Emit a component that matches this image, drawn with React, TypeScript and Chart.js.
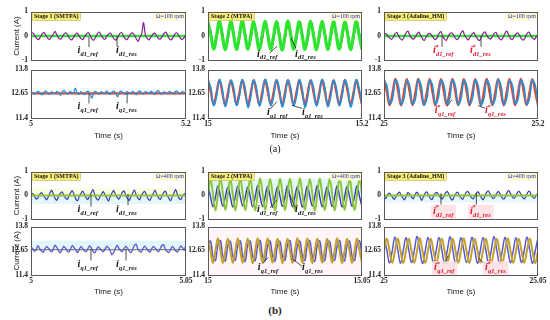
import React, { useEffect, useRef } from "react";
import { Chart, registerables } from "chart.js";
Chart.register(...registerables);

// ---------------- data ----------------
const TIME_A = [[5, 5.2], [15, 15.2], [25, 25.2]];
const TIME_B = [[5, 5.05], [15, 15.05], [25, 25.05]];
const D_TICKS = [-1, 0, 1];
const Q_TICKS = [11.4, 12.65, 13.8];
const STAGES = ["Stage 1 (SMTPA)", "Stage 2 (MTPA)", "Stage 3 (Adaline_HM)"];
const SPEEDS = ["Ω=100 rpm", "Ω=400 rpm"];

// (a) stage 1
const A1_D_REF = [0, 0];
const A1_D_RES = [
  0.10, 0.13, 0.02, -0.10, -0.15, -0.05,
  0.08, 0.15, 0.04, -0.09, -0.14, -0.04,
  0.06, 0.19, 0.05, -0.08, -0.13, -0.03,
  0.09, 0.13, 0.03, -0.11, -0.16, -0.06,
  0.07, 0.12, 0.02, -0.10, -0.15, -0.04,
  0.08, 0.14, 0.04, -0.12, -0.17, -0.05,
  0.10, 0.16, 0.03, -0.09, -0.14, -0.02,
  0.07, 0.12, 0.01, -0.12, -0.17, -0.06,
  0.09, 0.14, 0.02, -0.11, -0.15, -0.03,
  0.08, 0.13, 0.05, -0.10, -0.22, -0.05,
  0.09, 0.55, 0.03, -0.10, -0.16, -0.04,
  0.07, 0.12, 0.02, -0.09, -0.13, -0.03,
  0.10, 0.16, 0.04, -0.12, -0.15, -0.05,
  0.08, 0.13, 0.02, -0.10, -0.14, -0.06,
  0.05,
];
const A1_Q_REF = [12.62, 12.62];
const A1_Q_RES = [
  12.70, 12.64, 12.58, 12.66, 12.72, 12.62,
  12.55, 12.68, 12.74, 12.63, 12.58, 12.69,
  12.66, 12.60, 12.72, 12.65, 12.52, 12.70,
  12.75, 12.62, 12.59, 12.71, 12.66, 12.61,
  12.88, 12.64, 12.57, 12.70, 12.62, 12.55,
  12.69, 12.73, 12.60, 12.38, 12.66, 12.71,
  12.63, 12.58, 12.70, 12.66, 12.61, 12.74,
  12.62, 12.57, 12.69, 12.72, 12.60, 12.45,
  12.68, 12.73, 12.62, 12.58, 12.70, 12.65,
  12.60, 12.72, 12.66, 12.55, 12.69, 12.74,
  12.63, 12.59, 12.71, 12.66, 12.61, 12.73,
  12.64, 12.56, 12.70, 12.75, 12.62, 12.58,
  12.69, 12.66, 12.60, 12.72, 12.65, 12.57,
  12.70, 12.74, 12.63, 12.59, 12.71, 12.66,
  12.68,
];

// (a) stage 2
const A2_D_REF = [
  0.58, 0.03, -0.54, 0.02, 0.60, 0.02, -0.56, 0.01,
  0.59, 0.03, -0.55, 0.02, 0.61, 0.02, -0.54, 0.03,
  0.58, 0.01, -0.56, 0.02, 0.60, 0.03, -0.55, 0.01,
  0.59, 0.02, -0.57, 0.02, 0.61, 0.03, -0.54, 0.02,
  0.58, 0.02, -0.55, 0.03, 0.60, 0.01, -0.56, 0.02,
  0.59, 0.03, -0.55, 0.01, 0.60, 0.02, -0.54, 0.02,
  0.58, 0.03, -0.56, 0.02, 0.60, 0.02, -0.55,
];
const A2_D_RES = [
  0.48, 0.18, -0.50, -0.16, 0.50, 0.19, -0.48, -0.18,
  0.49, 0.17, -0.51, -0.17, 0.51, 0.19, -0.49, -0.16,
  0.48, 0.18, -0.50, -0.18, 0.50, 0.16, -0.48, -0.17,
  0.49, 0.19, -0.52, -0.16, 0.51, 0.18, -0.49, -0.18,
  0.48, 0.17, -0.50, -0.17, 0.50, 0.19, -0.51, -0.16,
  0.49, 0.18, -0.48, -0.18, 0.51, 0.17, -0.50, -0.17,
  0.48, 0.19, -0.49, -0.16, 0.50, 0.18, -0.51,
];
const A2_Q_REF = [
  13.27, 12.67, 12.07, 12.67, 13.28, 12.66, 12.06, 12.68,
  13.26, 12.67, 12.08, 12.66, 13.28, 12.68, 12.07, 12.67,
  13.27, 12.66, 12.06, 12.67, 13.26, 12.67, 12.08, 12.68,
  13.28, 12.67, 12.07, 12.66, 13.27, 12.68, 12.06, 12.67,
  13.26, 12.67, 12.07, 12.68, 13.28, 12.66, 12.08, 12.67,
  13.27, 12.67, 12.06, 12.66, 13.26, 12.68, 12.07, 12.67,
  13.28, 12.67, 12.08, 12.66, 13.27, 12.67, 12.06,
];
const A2_Q_RES = [
  13.28, 12.89, 12.02, 12.45, 13.30, 12.87, 11.98, 12.44,
  13.26, 12.90, 12.03, 12.46, 13.29, 12.88, 11.93, 12.45,
  13.27, 12.89, 12.01, 12.44, 13.31, 12.90, 12.02, 12.46,
  13.28, 12.87, 11.96, 12.45, 13.27, 12.89, 12.03, 12.44,
  13.29, 12.88, 11.94, 12.46, 13.26, 12.90, 12.01, 12.45,
  13.30, 12.89, 11.97, 12.44, 13.27, 12.88, 12.02, 12.46,
  13.28, 12.90, 11.95, 12.45, 13.29, 12.88, 12.01,
];

// (a) stage 3
const A3_D_REF = [0, 0];
const A3_D_RES = [
  0.05, 0.10, 0.02, -0.08, -0.14, -0.06,
  0.09, 0.14, 0.00, -0.12, -0.16, -0.03,
  0.12, 0.20, 0.04, -0.09, -0.13, -0.05,
  0.08, 0.16, 0.02, -0.11, -0.18, -0.04,
  0.07, 0.11, 0.03, -0.08, -0.15, -0.06,
  0.10, 0.18, 0.01, -0.13, -0.17, -0.02,
  0.09, 0.13, 0.04, -0.10, -0.14, -0.05,
  0.12, 0.21, 0.02, -0.09, -0.16, -0.03,
  0.08, 0.14, 0.00, -0.12, -0.19, -0.06,
  0.10, 0.17, 0.03, -0.08, -0.13, -0.04,
  0.09, 0.15, 0.01, -0.11, -0.16, -0.05,
  0.11, 0.20, 0.04, -0.10, -0.15, -0.02,
  0.08, 0.13, 0.02, -0.12, -0.17, -0.06,
  0.10, 0.16, 0.03, -0.09, -0.14, -0.04,
  0.06,
];
const A3_Q_REF = [
  13.33, 12.68, 12.03, 12.68, 13.34, 12.67, 12.02, 12.69,
  13.32, 12.68, 12.04, 12.67, 13.34, 12.69, 12.03, 12.68,
  13.33, 12.67, 12.02, 12.68, 13.32, 12.68, 12.04, 12.69,
  13.34, 12.68, 12.03, 12.67, 13.33, 12.69, 12.02, 12.68,
  13.32, 12.68, 12.03, 12.69, 13.34, 12.67, 12.04, 12.68,
  13.33, 12.68, 12.02, 12.67, 13.32, 12.69, 12.03, 12.68,
  13.34, 12.68, 12.04, 12.67, 13.33, 12.68, 12.02,
];
const A3_Q_RES = [
  13.25, 13.01, 12.11, 12.35, 13.27, 13.03, 12.08, 12.36,
  13.24, 13.00, 12.10, 12.34, 13.30, 13.02, 12.05, 12.35,
  13.26, 13.01, 12.09, 12.37, 13.25, 13.04, 12.11, 12.34,
  13.28, 13.00, 12.07, 12.35, 13.24, 13.02, 12.10, 12.36,
  13.27, 13.01, 12.06, 12.34, 13.25, 13.03, 12.09, 12.35,
  13.29, 13.00, 12.08, 12.36, 13.24, 13.02, 12.11, 12.34,
  13.26, 13.01, 12.07, 12.35, 13.27, 13.03, 12.09,
];

// (b) stage 1
const B1_D_REF = [0, 0];
const B1_D_RES = [
  0.05, 0.08, -0.02, -0.15, -0.10, 0.04,
  0.12, 0.03, -0.08, -0.18, -0.06, 0.10,
  0.22, 0.05, -0.12, -0.20, -0.04, 0.09,
  0.15, 0.02, -0.10, -0.16, -0.03, 0.12,
  0.20, 0.04, -0.14, -0.22, -0.05, 0.08,
  0.18, 0.06, -0.09, -0.17, -0.02, 0.11,
  0.24, 0.03, -0.13, -0.19, -0.06, 0.07,
  0.16, 0.01, -0.11, -0.23, -0.04, 0.10,
  0.21, 0.05, -0.08, -0.15, -0.03, 0.13,
  0.19, 0.02, -0.12, -0.21, -0.05, 0.09,
  0.23, 0.04, -0.10, -0.18, -0.02, 0.11,
  0.17, 0.03, -0.14, -0.20, -0.06, 0.08,
  0.22, 0.05, -0.09, -0.16, -0.03, 0.12,
  0.18, 0.02, -0.11, -0.22, -0.05, 0.10,
  0.25, 0.04, -0.12, -0.17, -0.02, 0.06,
  0.08,
];
const B1_Q_REF = [12.65, 12.65];
const B1_Q_RES = [
  12.78, 12.70, 12.58, 12.66, 12.85, 12.72,
  12.60, 12.52, 12.68, 12.80, 12.74, 12.62,
  12.55, 12.70, 12.88, 12.76, 12.61, 12.50,
  12.66, 12.82, 12.73, 12.59, 12.54, 12.69,
  12.86, 12.75, 12.63, 12.51, 12.67, 12.81,
  12.72, 12.60, 12.56, 12.70, 12.84, 12.74,
  12.58, 12.49, 12.66, 12.79, 12.71, 12.62,
  12.55, 12.68, 12.83, 12.75, 12.60, 12.40,
  12.52, 12.72, 12.87, 12.73, 12.61, 12.56,
  12.70, 12.82, 12.74, 12.59, 12.50, 12.67,
  12.85, 12.93, 12.70, 12.58, 12.54, 12.71,
  12.83, 12.72, 12.61, 12.53, 12.69, 12.80,
  12.74, 12.62, 12.55, 12.70, 12.86, 12.90,
  12.68, 12.57, 12.51, 12.66, 12.81, 12.73,
  12.60, 12.54, 12.69, 12.84, 12.75, 12.62,
  12.92,
];

// (b) stage 2
const B2_D_REF = [
  0.05, 0.70, 0.05, -0.62, 0.04, 0.72, 0.06, -0.60,
  0.05, 0.69, 0.04, -0.63, 0.06, 0.71, 0.05, -0.61,
  0.04, 0.70, 0.06, -0.62, 0.05, 0.72, 0.04, -0.60,
  0.06, 0.69, 0.05, -0.63, 0.04, 0.71, 0.06, -0.61,
  0.05, 0.70, 0.04, -0.62, 0.06, 0.72, 0.05, -0.60,
  0.04, 0.69, 0.06, -0.63, 0.05, 0.71, 0.04, -0.61,
  0.06, 0.70, 0.05, -0.62, 0.04, 0.72, 0.06, -0.60,
  0.05, 0.70, 0.04, -0.61, 0.05, 0.71, 0.05,
];
const B2_D_RES = [
  0.37, -0.05, -0.47, -0.06, 0.40, -0.04, -0.45, -0.05,
  0.35, -0.06, -0.48, -0.04, 0.39, -0.05, -0.44, -0.06,
  0.36, -0.04, -0.47, -0.05, 0.41, -0.06, -0.46, -0.04,
  0.38, -0.05, -0.49, -0.06, 0.36, -0.04, -0.45, -0.05,
  0.40, -0.06, -0.47, -0.04, 0.37, -0.05, -0.48, -0.06,
  0.39, -0.04, -0.44, -0.05, 0.42, -0.06, -0.47, -0.04,
  0.36, -0.05, -0.46, -0.06, 0.40, -0.04, -0.48, -0.05,
  0.38, -0.06, -0.45, -0.04, 0.41, -0.05, -0.47,
];
const B2_Q_REF = [
  13.20, 12.60, 12.00, 12.60, 13.22, 12.61, 11.99, 12.59,
  13.19, 12.60, 12.01, 12.61, 13.21, 12.59, 12.00, 12.60,
  13.20, 12.61, 11.98, 12.60, 13.22, 12.60, 12.00, 12.59,
  13.21, 12.60, 12.01, 12.61, 13.19, 12.59, 11.99, 12.60,
  13.20, 12.61, 12.00, 12.60, 13.22, 12.60, 12.01, 12.59,
  13.21, 12.60, 11.99, 12.61, 13.20, 12.59, 12.00, 12.60,
  13.19, 12.61, 12.01, 12.60, 13.22, 12.60, 11.98, 12.59,
  13.20, 12.60, 12.00, 12.61, 13.21, 12.60, 12.01,
];
const B2_Q_RES = [
  12.87, 13.08, 12.33, 12.12, 12.89, 13.10, 12.31, 12.10,
  12.86, 13.06, 12.34, 12.13, 12.88, 13.09, 12.32, 12.08,
  12.90, 13.07, 12.33, 12.11, 12.87, 13.11, 12.30, 12.12,
  12.85, 13.08, 12.35, 12.09, 12.89, 13.06, 12.32, 12.13,
  12.88, 13.10, 12.31, 12.10, 12.86, 13.07, 12.34, 12.12,
  12.90, 13.09, 12.33, 12.08, 12.87, 13.08, 12.30, 12.11,
  12.89, 13.06, 12.32, 12.13, 12.85, 13.10, 12.34, 12.10,
  12.88, 13.07, 12.33, 12.12, 12.87, 13.09, 12.31,
];

// (b) stage 3
const B3_D_REF = [0, 0];
const B3_D_RES = [
  -0.05, -0.12, 0.02, 0.10, 0.04, -0.08,
  -0.16, -0.04, 0.08, 0.14, 0.02, -0.10,
  -0.18, -0.03, 0.12, 0.06, -0.06, -0.14,
  0.00, 0.13, 0.08, -0.05, -0.20, -0.06,
  0.09, 0.15, 0.03, -0.11, -0.17, -0.02,
  0.10, 0.12, 0.01, -0.09, -0.15, -0.03,
  0.11, 0.16, 0.04, -0.12, -0.19, -0.05,
  0.08, 0.14, 0.02, -0.10, -0.16, -0.01,
  0.12, 0.17, 0.05, -0.08, -0.14, -0.04,
  0.10, 0.15, 0.03, -0.11, -0.18, -0.02,
  0.13, 0.19, 0.06, -0.07, -0.13, -0.03,
  0.11, 0.16, 0.04, -0.09, -0.15, -0.05,
  0.14, 0.20, 0.07, -0.06, -0.12, -0.02,
  0.12, 0.17, 0.05, -0.08, -0.14, -0.03,
  0.13, 0.18, 0.04, -0.07, -0.11, 0.02,
  0.08,
];
const B3_Q_REF = [
  12.60, 13.20, 12.60, 12.00, 12.61, 13.21, 12.59, 11.99,
  12.60, 13.19, 12.61, 12.01, 12.59, 13.22, 12.60, 12.00,
  12.61, 13.20, 12.59, 11.98, 12.60, 13.21, 12.61, 12.01,
  12.59, 13.19, 12.60, 12.00, 12.61, 13.22, 12.59, 11.99,
  12.60, 13.20, 12.61, 12.01, 12.59, 13.21, 12.60, 12.00,
  12.61, 13.19, 12.59, 11.99, 12.60, 13.22, 12.61, 12.00,
  12.59, 13.20, 12.60, 12.01, 12.61, 13.21, 12.59, 11.99,
  12.60,
];
const B3_Q_RES = [
  13.25, 12.65, 12.00, 12.60, 13.28, 12.64, 11.98, 12.61,
  13.24, 12.66, 12.02, 12.59, 13.30, 12.65, 11.97, 12.60,
  13.26, 12.64, 12.01, 12.62, 13.25, 12.66, 11.99, 12.60,
  13.29, 12.65, 12.00, 12.59, 13.24, 12.64, 12.02, 12.61,
  13.27, 12.66, 11.98, 12.60, 13.25, 12.65, 12.01, 12.62,
  13.30, 12.64, 11.99, 12.59, 13.26, 12.66, 12.00, 12.61,
  13.24, 12.65, 12.02, 12.60, 13.28, 12.64, 11.97, 12.60,
  13.26,
];

// ---------------- layout / style ----------------
type Series = { v: number[]; c: string; w: number; t: number };
type Ann = { sub: string; star: boolean; fx: number; fy: number; l: number[] };
type Band = { lo: number; hi: number; c: string };
type Panel = {
  left: number; top: number; w: number; h: number; axw: number;
  y: [number, number]; yt: number[]; x: number[]; showX: boolean; xh: number;
  yTitle: boolean; series: Series[]; stage?: string; speed?: string;
  anns: Ann[]; annColor: string; annBg?: string; bands: Band[];
};

const COLS = [
  { left: 31, w: 155, axw: 31 },
  { left: 208, w: 154, axw: 30 },
  { left: 384, w: 154, axw: 30 },
];
const ROWS = [
  { uTop: 10, uH: 52, lTop: 68, lH: 50, xh: 24 },
  { uTop: 170, uH: 51, lTop: 225, lH: 50, xh: 23 },
];

const GREEN_A = "#2fe42f", PURPLE = "#8b1c99", RED = "#e8452c", BLUE_A = "#2390dc";
const GREEN_B = "#8cc63a", BLUE_B = "#3a3ab4", OLIVE = "#c2a12e", BLUE_BQ = "#5858d6", DARK_REF = "#6b6b3c";

const S = (v: number[], c: string, w: number, t: number): Series => ({ v, c, w, t });

const dAnn = (star: boolean, a: number[], b: number[]): Ann[] => [
  { sub: "d1_ref", star, fx: a[0], fy: a[1], l: a.slice(2) },
  { sub: "d1_res", star, fx: b[0], fy: b[1], l: b.slice(2) },
];
const qAnn = (star: boolean, a: number[], b: number[]): Ann[] => [
  { sub: "q1_ref", star, fx: a[0], fy: a[1], l: a.slice(2) },
  { sub: "q1_res", star, fx: b[0], fy: b[1], l: b.slice(2) },
];

function makePanels(): Panel[] {
  const out: Panel[] = [];
  const seriesD = [
    [S(A1_D_RES, PURPLE, 1.2, 0.3), S(A1_D_REF, GREEN_A, 2.6, 0)],
    [S(A2_D_REF, GREEN_A, 3.2, 0.4), S(A2_D_RES, PURPLE, 1.4, 0.4)],
    [S(A3_D_RES, PURPLE, 1.2, 0.3), S(A3_D_REF, GREEN_A, 2.6, 0)],
    [S(B1_D_REF, GREEN_B, 1.8, 0), S(B1_D_RES, BLUE_B, 1.2, 0.3)],
    [S(B2_D_REF, GREEN_B, 2.0, 0.4), S(B2_D_RES, BLUE_B, 1.4, 0.4)],
    [S(B3_D_REF, GREEN_B, 1.8, 0), S(B3_D_RES, BLUE_B, 1.2, 0.3)],
  ];
  const seriesQ = [
    [S(A1_Q_RES, BLUE_A, 1.3, 0.3), S(A1_Q_REF, RED, 2.2, 0)],
    [S(A2_Q_RES, BLUE_A, 1.6, 0.4), S(A2_Q_REF, RED, 2.2, 0.4)],
    [S(A3_Q_RES, BLUE_A, 1.6, 0.4), S(A3_Q_REF, RED, 2.2, 0.4)],
    [S(B1_Q_RES, BLUE_BQ, 1.3, 0.3), S(B1_Q_REF, DARK_REF, 1.0, 0)],
    [S(B2_Q_REF, OLIVE, 2.0, 0.4), S(B2_Q_RES, BLUE_BQ, 1.5, 0.4)],
    [S(B3_Q_REF, OLIVE, 2.0, 0.4), S(B3_Q_RES, BLUE_BQ, 1.5, 0.4)],
  ];
  const annD = [
    dAnn(false, [0.30, 0.85, 0.374, 0.52, 0.374, 0.73], [0.548, 0.85, 0.555, 0.50, 0.555, 0.71]),
    dAnn(false, [0.318, 0.92, 0.448, 0.71, 0.40, 0.85], [0.565, 0.92, 0.539, 0.54, 0.571, 0.75]),
    dAnn(true, [0.318, 0.85, 0.377, 0.50, 0.377, 0.72], [0.558, 0.85, 0.63, 0.50, 0.63, 0.72]),
    dAnn(false, [0.30, 0.84, 0.387, 0.49, 0.387, 0.73], [0.548, 0.84, 0.626, 0.47, 0.626, 0.70]),
    dAnn(false, [0.318, 0.84, 0.448, 0.59, 0.403, 0.76], [0.565, 0.84, 0.532, 0.49, 0.565, 0.75]),
    dAnn(true, [0.318, 0.88, 0.37, 0.45, 0.37, 0.69], [0.558, 0.88, 0.60, 0.45, 0.60, 0.69]),
  ];
  const annQ = [
    qAnn(false, [0.30, 0.82, 0.374, 0.50, 0.374, 0.70], [0.548, 0.82, 0.62, 0.50, 0.62, 0.70]),
    qAnn(false, [0.383, 0.94, 0.403, 0.82, 0.448, 0.66], [0.61, 0.94, 0.545, 0.74, 0.61, 0.80]),
    qAnn(true, [0.33, 0.90, 0.409, 0.76, 0.442, 0.62], [0.656, 0.90, 0.61, 0.74, 0.655, 0.80]),
    qAnn(false, [0.30, 0.84, 0.387, 0.46, 0.387, 0.70], [0.548, 0.84, 0.613, 0.46, 0.613, 0.70]),
    qAnn(false, [0.323, 0.90, 0.357, 0.76, 0.39, 0.64], [0.61, 0.90, 0.545, 0.66, 0.61, 0.82]),
    qAnn(true, [0.325, 0.90, 0.396, 0.76, 0.416, 0.60], [0.656, 0.90, 0.61, 0.64, 0.656, 0.78]),
  ];
  const bandsD: Band[][] = [
    [], [], [],
    [{ lo: 0, hi: 0.3, c: "rgba(250,250,200,0.55)" }, { lo: -0.35, hi: 0, c: "rgba(200,240,245,0.55)" }],
    [{ lo: -0.2, hi: 0.7, c: "rgba(200,240,245,0.55)" }],
    [{ lo: -0.3, hi: 0.05, c: "rgba(200,240,245,0.45)" }],
  ];
  const bandsQ: Band[][] = [
    [], [], [],
    [{ lo: 12.7, hi: 13.1, c: "rgba(200,240,245,0.55)" }],
    [{ lo: 11.4, hi: 13.8, c: "rgba(252,235,240,0.45)" }],
    [],
  ];
  for (let r = 0; r < 2; r++) {
    const row = ROWS[r];
    for (let c = 0; c < 3; c++) {
      const col = COLS[c];
      const k = r * 3 + c;
      const x = (r === 0 ? TIME_A : TIME_B)[c];
      const annColor = c === 2 ? "#e3142a" : "#111";
      const annBg = c === 2 && r === 1 ? "rgba(252,222,228,0.85)" : undefined;
      out.push({
        left: col.left, top: row.uTop, w: col.w, h: row.uH, axw: col.axw,
        y: [-1, 1], yt: D_TICKS, x, showX: false, xh: row.xh, yTitle: c === 0,
        series: seriesD[k], stage: STAGES[c], speed: SPEEDS[r],
        anns: annD[k], annColor, annBg, bands: bandsD[k],
      });
      out.push({
        left: col.left, top: row.lTop, w: col.w, h: row.lH, axw: col.axw,
        y: [11.4, 13.8], yt: Q_TICKS, x, showX: true, xh: row.xh, yTitle: c === 0 && r === 1,
        series: seriesQ[k], anns: annQ[k], annColor, annBg, bands: bandsQ[k],
      });
    }
  }
  return out;
}
const PANELS = makePanels();

const PT = 6, PR = 13, PB = 6;
const TICK_FONT = { family: "'Liberation Serif', serif", size: 7.5, weight: "bold" as const };
const TITLE_FONT = { family: "'Liberation Sans', Arial, sans-serif", size: 8 };

function drawLabel(ctx: CanvasRenderingContext2D, x: number, y: number, a: Ann, color: string, bg?: string) {
  ctx.save();
  ctx.font = "italic bold 10px 'Liberation Serif', serif";
  const wi = ctx.measureText("i").width;
  ctx.font = "italic bold 6.5px 'Liberation Serif', serif";
  const ws = ctx.measureText(a.sub).width;
  if (bg) {
    ctx.fillStyle = bg;
    ctx.fillRect(x - 2, y - 9, wi + ws + 5, 14);
  }
  ctx.fillStyle = color;
  ctx.textBaseline = "alphabetic";
  ctx.textAlign = "left";
  ctx.font = "italic bold 10px 'Liberation Serif', serif";
  ctx.fillText("i", x, y);
  ctx.font = "italic bold 6.5px 'Liberation Serif', serif";
  if (a.star) ctx.fillText("*", x + wi - 0.5, y - 4.5);
  ctx.fillText(a.sub, x + wi + 0.3, y + 2.8);
  ctx.restore();
}

function makeDeco(p: Panel) {
  return {
    id: "deco",
    beforeDatasetsDraw(chart: any) {
      const { ctx, chartArea: ca, scales } = chart;
      ctx.save();
      for (const b of p.bands) {
        const y1 = scales.y.getPixelForValue(b.hi);
        const y2 = scales.y.getPixelForValue(b.lo);
        ctx.fillStyle = b.c;
        ctx.fillRect(ca.left, y1, ca.right - ca.left, y2 - y1);
      }
      ctx.restore();
    },
    afterDatasetsDraw(chart: any) {
      const { ctx, chartArea: ca } = chart;
      const W = ca.right - ca.left, H = ca.bottom - ca.top;
      ctx.save();
      ctx.strokeStyle = "#222";
      ctx.lineWidth = 0.8;
      for (const a of p.anns) {
        ctx.beginPath();
        ctx.moveTo(ca.left + a.l[0] * W, ca.top + a.l[1] * H);
        ctx.lineTo(ca.left + a.l[2] * W, ca.top + a.l[3] * H);
        ctx.stroke();
      }
      for (const a of p.anns) {
        drawLabel(ctx, ca.left + a.fx * W, ca.top + a.fy * H, a, p.annColor, p.annBg);
      }
      if (p.stage) {
        ctx.font = "bold 6px 'Liberation Serif', serif";
        const tw = ctx.measureText(p.stage).width;
        ctx.fillStyle = "#f7f07a";
        ctx.fillRect(ca.left + 1, ca.top + 1, tw + 4, 8);
        ctx.strokeStyle = "#b8a840";
        ctx.lineWidth = 0.5;
        ctx.strokeRect(ca.left + 1, ca.top + 1, tw + 4, 8);
        ctx.fillStyle = "#111";
        ctx.textBaseline = "middle";
        ctx.textAlign = "left";
        ctx.fillText(p.stage, ca.left + 3, ca.top + 5.3);
      }
      if (p.speed) {
        ctx.font = "6px 'Liberation Serif', serif";
        const tw = ctx.measureText(p.speed).width;
        ctx.fillStyle = "#fffbcc";
        ctx.fillRect(ca.right - tw - 4, ca.top + 1, tw + 3, 8);
        ctx.fillStyle = "#2a2ad6";
        ctx.textBaseline = "middle";
        ctx.textAlign = "right";
        ctx.fillText(p.speed, ca.right - 2, ca.top + 5.3);
      }
      ctx.strokeStyle = "#5a5a5a";
      ctx.lineWidth = 1;
      ctx.strokeRect(Math.round(ca.left) + 0.5, Math.round(ca.top) + 0.5, Math.round(W) - 1, Math.round(H) - 1);
      ctx.restore();
    },
  };
}

function PanelChart({ p }: { p: Panel }) {
  const ref = useRef<HTMLCanvasElement>(null);
  const cw = p.axw + p.w + PR;
  const ch = PT + p.h + (p.showX ? p.xh : PB);
  useEffect(() => {
    const cv = ref.current;
    if (!cv) return;
    const [x0, x1] = p.x;
    const chart = new Chart(cv, {
      type: "line",
      data: {
        datasets: p.series.map((s) => ({
          data: s.v.map((y, i) => ({ x: x0 + ((x1 - x0) * i) / (s.v.length - 1), y })),
          borderColor: s.c,
          borderWidth: s.w,
          pointRadius: 0,
          tension: s.t,
          fill: false,
        })),
      },
      options: {
        responsive: false,
        animation: false,
        devicePixelRatio: 1,
        events: [],
        layout: { padding: { left: 0, right: PR, top: PT, bottom: p.showX ? 0 : PB } },
        plugins: { legend: { display: false }, tooltip: { enabled: false } },
        scales: {
          x: {
            type: "linear",
            min: x0,
            max: x1,
            display: p.showX,
            afterBuildTicks: (s: any) => { s.ticks = [{ value: x0 }, { value: x1 }]; },
            afterFit: (s: any) => { if (p.showX) s.height = p.xh; },
            ticks: { callback: (v: any) => String(v), font: TICK_FONT, color: "#222", maxRotation: 0, autoSkip: false, padding: 2 },
            grid: { display: false, drawTicks: false },
            border: { display: false },
            title: { display: true, text: "Time (s)", font: TITLE_FONT, color: "#222", padding: { top: 0, bottom: 1 } },
          },
          y: {
            type: "linear",
            min: p.y[0],
            max: p.y[1],
            afterBuildTicks: (s: any) => { s.ticks = p.yt.map((v) => ({ value: v })); },
            afterFit: (s: any) => { s.width = p.axw; },
            ticks: { callback: (v: any) => String(v), font: TICK_FONT, color: "#222", padding: 3 },
            grid: { display: false, drawTicks: false },
            border: { display: false },
            title: { display: p.yTitle, text: "Current (A)", font: TITLE_FONT, color: "#222", padding: { top: 12, bottom: 0 } },
          },
        },
      } as any,
      plugins: [makeDeco(p)],
    });
    return () => chart.destroy();
  }, []);
  return (
    <canvas
      ref={ref}
      width={cw}
      height={ch}
      style={{ position: "absolute", left: p.left - p.axw, top: p.top - PT, width: cw, height: ch }}
    />
  );
}

export default function App() {
  return (
    <div style={{ position: "absolute", left: 0, top: 0, width: 550, height: 320, background: "#fff", overflow: "hidden" }}>
      {PANELS.map((p, i) => (
        <PanelChart key={i} p={p} />
      ))}
      <div style={{ position: "absolute", left: 0, width: 550, top: 143, textAlign: "center", font: "10px 'Liberation Serif', serif", color: "#222" }}>(a)</div>
      <div style={{ position: "absolute", left: 0, width: 550, top: 304, textAlign: "center", font: "bold 11px 'Liberation Serif', serif", color: "#222" }}>(b)</div>
    </div>
  );
}
